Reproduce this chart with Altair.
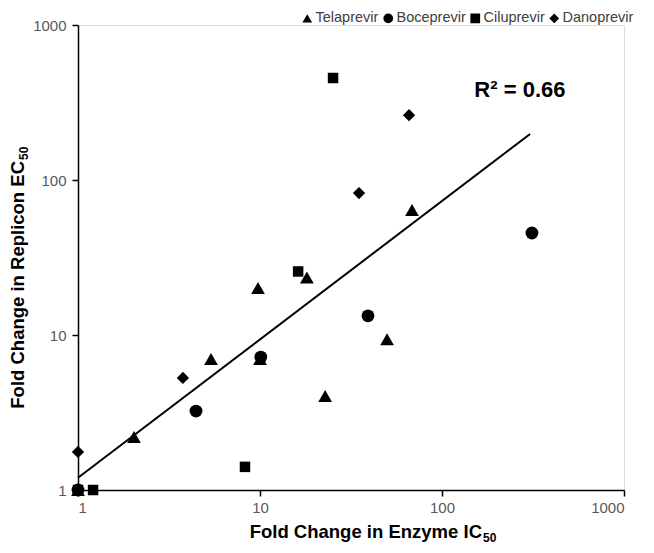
import altair as alt
import pandas as pd

# Data (fold change, log-log)
tel_x = [1, 2.03, 5.38, 9.75, 10.0, 18.1, 22.8, 49.9, 68.4]
tel_y = [1, 2.2, 7.0, 20.1, 7.0, 23.5, 4.04, 9.4, 64]
boc_x = [1, 4.45, 10.1, 39.2, 312]
boc_y = [1, 3.23, 7.2, 13.3, 45.5]
cil_x = [1, 1.21, 8.27, 16.2, 25.2]
cil_y = [1, 1.0, 1.41, 25.7, 455]
dan_x = [1, 1.0, 3.77, 35.0, 65.9]
dan_y = [1, 1.76, 5.28, 82.4, 262]

series = ["Telaprevir", "Boceprevir", "Ciluprevir", "Danoprevir"]
shapes = ["triangle-up", "circle", "square", "diamond"]
sizes = [190, 165, 110, 150]

trend_x = [1, 305]
trend_y = [1.2, 198]

r2_label = "R² = 0.66"
r2_x = [268]
r2_y = [380]

x_title = ["Fold Change in Enzyme IC", "50"]
y_title = ["Fold Change in Replicon EC", "50"]
tick_values = [1, 10, 100, 1000]

FONT = "Liberation Sans"

rows = []
for name, xs, ys, sz in zip(series, [tel_x, boc_x, cil_x, dan_x],
                            [tel_y, boc_y, cil_y, dan_y], sizes):
    for xv, yv in zip(xs, ys):
        rows.append({"x": xv, "y": yv, "series": name, "sz": sz})
df = pd.DataFrame(rows)
df["order"] = range(len(df))

trend_df = pd.DataFrame({"x": trend_x, "y": trend_y})
r2_df = pd.DataFrame({"x": r2_x, "y": r2_y, "t": [r2_label]})

xscale = alt.Scale(type="log", domain=[1, 1000], nice=False)
yscale = alt.Scale(type="log", domain=[1, 1000], nice=False)

common_axis = dict(
    values=tick_values, format="d", grid=False, title=None,
    domainColor="#000000", domainWidth=1.5, tickColor="#000000", tickWidth=1.5,
    tickSize=6, labelColor="#595959", labelFontSize=15, labelFont=FONT,
)
xaxis = alt.Axis(labelPadding=4, **common_axis)
yaxis = alt.Axis(labelPadding=6, **common_axis)

points = alt.Chart(df).mark_point(filled=True, opacity=1, color="black").encode(
    x=alt.X("x:Q", scale=xscale, axis=xaxis),
    y=alt.Y("y:Q", scale=yscale, axis=yaxis),
    shape=alt.Shape(
        "series:N",
        scale=alt.Scale(domain=series, range=shapes),
        legend=alt.Legend(
            title=None, orient="none", direction="horizontal",
            legendX=222, legendY=-14, symbolSize=95,
            symbolFillColor="black", symbolStrokeWidth=0,
            labelFont=FONT, labelFontSize=14.5, labelColor="#404040",
            labelOffset=1, columnPadding=2, symbolOffset=0,
        ),
    ),
    size=alt.Size("sz:Q", scale=None),
    order=alt.Order("order:Q"),
)

trend = alt.Chart(trend_df).mark_line(color="black", strokeWidth=2).encode(
    x=alt.X("x:Q", scale=xscale),
    y=alt.Y("y:Q", scale=yscale),
)

r2 = alt.Chart(r2_df).mark_text(
    font=FONT, fontSize=22, fontWeight="bold", color="black", align="center",
    baseline="middle",
).encode(
    x=alt.X("x:Q", scale=xscale),
    y=alt.Y("y:Q", scale=yscale),
    text="t:N",
)

xt_main = alt.Chart(pd.DataFrame({"t": [x_title[0]]})).mark_text(
    font=FONT, fontSize=18.5, fontWeight="bold", color="black",
    align="right", baseline="alphabetic",
).encode(x=alt.value(404), y=alt.value(513), text="t:N")
xt_sub = alt.Chart(pd.DataFrame({"t": [x_title[1]]})).mark_text(
    font=FONT, fontSize=12, fontWeight="bold", color="black",
    align="left", baseline="alphabetic",
).encode(x=alt.value(405), y=alt.value(517), text="t:N")
yt_main = alt.Chart(pd.DataFrame({"t": [y_title[0]]})).mark_text(
    font=FONT, fontSize=18.5, fontWeight="bold", color="black", angle=270,
    align="right", baseline="alphabetic",
).encode(x=alt.value(-54), y=alt.value(136), text="t:N")
yt_sub = alt.Chart(pd.DataFrame({"t": [y_title[1]]})).mark_text(
    font=FONT, fontSize=12, fontWeight="bold", color="black", angle=270,
    align="left", baseline="alphabetic",
).encode(x=alt.value(-50), y=alt.value(135), text="t:N")

chart = alt.layer(trend, points, r2, xt_main, xt_sub, yt_main, yt_sub).properties(
    width=546, height=465,
    autosize=alt.AutoSizeParams(type="none"),
    padding={"left": 70, "top": 17, "right": 22, "bottom": 55},
).configure_view(stroke=None).configure(background="white")

chart.save("out.html", embed_options={"renderer": "svg", "actions": False})
